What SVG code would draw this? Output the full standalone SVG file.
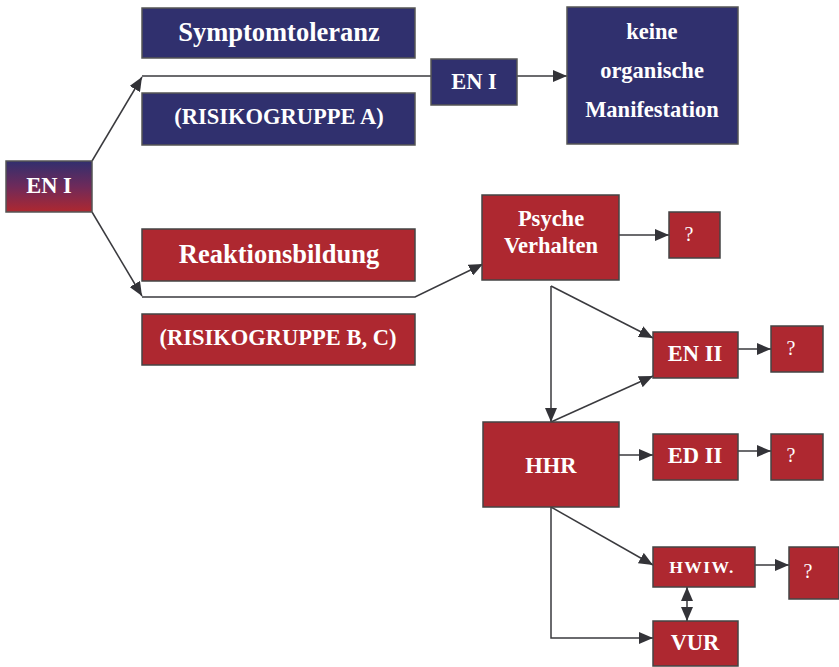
<svg xmlns="http://www.w3.org/2000/svg" width="839" height="667" viewBox="0 0 839 667">
<defs>
<linearGradient id="g" x1="0" y1="0" x2="0" y2="1">
<stop offset="0" stop-color="#312f6e"/>
<stop offset="0.5" stop-color="#6e2a5a"/>
<stop offset="1" stop-color="#ae2830"/>
</linearGradient>
<marker id="b" viewBox="0 0 14 12" refX="14" refY="6" markerWidth="14" markerHeight="12" markerUnits="userSpaceOnUse" orient="auto-start-reverse">
<path d="M0,0 L14,6 L0,12 z" fill="#333338"/>
</marker>
</defs>
<style>
.bl{fill:#30306e;stroke:#555;stroke-width:1.5}
.rd{fill:#ae2830;stroke:#444;stroke-width:1.5}
text{font-family:"Liberation Serif","Times New Roman",serif;font-weight:bold;fill:#fff;text-anchor:middle;dominant-baseline:central;font-size:22.5px}
text.big{font-size:26.5px}
text.q{font-weight:normal;font-size:20px}
text.hw{font-size:17.5px;letter-spacing:1.5px}
.c{fill:none;stroke:#3a3a3e;stroke-width:1.5}
</style>
<g id="connectors">
<path class="c" d="M92,161 L142,77" marker-end="url(#b)"/>
<path class="c" d="M142,76 L431,76"/>
<path class="c" d="M517,76 L567,76" marker-end="url(#b)"/>
<path class="c" d="M92,212 L142,296" marker-end="url(#b)"/>
<path class="c" d="M142,297 L415,297 L483,264" marker-end="url(#b)"/>
<path class="c" d="M619,235 L669,235" marker-end="url(#b)"/>
<path class="c" d="M551,286 L653,338" marker-end="url(#b)"/>
<path class="c" d="M551,286 L551,422" marker-end="url(#b)"/>
<path class="c" d="M551,422 L653,376" marker-end="url(#b)"/>
<path class="c" d="M738,349 L771,349" marker-end="url(#b)"/>
<path class="c" d="M619,455 L653,455" marker-end="url(#b)"/>
<path class="c" d="M738,451 L771,451" marker-end="url(#b)"/>
<path class="c" d="M551,507 L653,565" marker-end="url(#b)"/>
<path class="c" d="M551,507 L551,638 L653,638" marker-end="url(#b)"/>
<path class="c" d="M755,565 L789,565" marker-end="url(#b)"/>
<path class="c" d="M687,587 L687,621" marker-start="url(#b)" marker-end="url(#b)"/>
</g>
<g id="en1-left"><rect x="6" y="161" width="86" height="51" fill="url(#g)" stroke="#555" stroke-width="1.5"/><text x="49" y="185">EN I</text></g>
<g id="symptomtoleranz"><rect class="bl" x="142" y="8" width="273" height="50"/><text class="big" x="279" y="32">Symptomtoleranz</text></g>
<g id="risiko-a"><rect class="bl" x="142" y="93" width="273" height="52"/><text x="279" y="116">(RISIKOGRUPPE A)</text></g>
<g id="en1-mid"><rect class="bl" x="431" y="59" width="86" height="46"/><text x="474" y="81">EN I</text></g>
<g id="keine"><rect class="bl" x="567" y="7" width="171" height="137"/><text x="652" y="31">keine</text><text x="652" y="70">organische</text><text x="652" y="109">Manifestation</text></g>
<g id="reaktion"><rect class="rd" x="142" y="229" width="273" height="52"/><text class="big" x="279" y="254">Reaktionsbildung</text></g>
<g id="risiko-bc"><rect class="rd" x="142" y="314" width="273" height="51"/><text x="278" y="337">(RISIKOGRUPPE B, C)</text></g>
<g id="psyche"><rect class="rd" x="482" y="195" width="137" height="85"/><text x="551" y="218">Psyche</text><text x="551" y="245">Verhalten</text></g>
<g id="q1"><rect class="rd" x="669" y="212" width="51" height="46"/><text class="q" x="689" y="234">?</text></g>
<g id="en2"><rect class="rd" x="653" y="332" width="85" height="46"/><text x="695" y="353">EN II</text></g>
<g id="q2"><rect class="rd" x="771" y="326" width="52" height="46"/><text class="q" x="791" y="348">?</text></g>
<g id="hhr"><rect class="rd" x="483" y="422" width="136" height="85"/><text x="551" y="465">HHR</text></g>
<g id="ed2"><rect class="rd" x="653" y="434" width="85" height="46"/><text x="695" y="455">ED II</text></g>
<g id="q3"><rect class="rd" x="771" y="434" width="52" height="46"/><text class="q" x="791" y="455">?</text></g>
<g id="hwiw"><rect class="rd" x="653" y="547" width="102" height="40"/><text class="hw" x="702" y="567">HWIW.</text></g>
<g id="q4"><rect class="rd" x="789" y="547" width="50" height="52"/><text class="q" x="808" y="571">?</text></g>
<g id="vur"><rect class="rd" x="653" y="621" width="85" height="45"/><text x="695" y="642">VUR</text></g>
</svg>
